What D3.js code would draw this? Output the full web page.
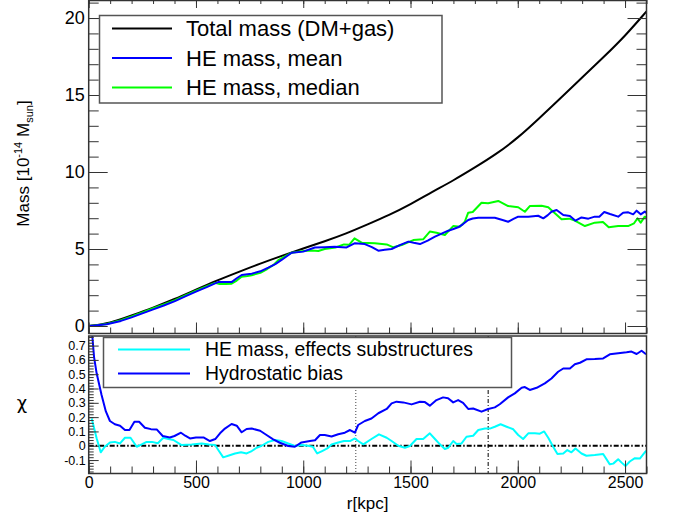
<!DOCTYPE html>
<html><head><meta charset="utf-8">
<script src="https://cdn.jsdelivr.net/npm/d3@7"></script>
<style>
html,body{margin:0;padding:0;background:#fff;}
svg{display:block;font-family:"Liberation Sans",Arial,Helvetica,sans-serif;}
</style></head>
<body>
<svg id="chart" width="673" height="519"></svg>
<script>
// ---------- DATA ----------
const rTotal = [0,100,200,300,400,500,600,700,800,900,1000,1100,1200,1300,1400,1500,1600,1700,1800,1900,2000,2100,2200,2300,2400,2500,2600];
const massTotal = [0,0.18,0.68,1.19,1.74,2.36,2.97,3.52,4.06,4.56,5.04,5.5,6.0,6.6,7.2,7.9,8.7,9.45,10.29,11.16,12.21,13.49,14.81,16.13,17.46,18.83,20.43];

const rMean = [0,30,84,150,200,250,301,350,402,450,500,550,589,604,640,666,690,713,740,760,800,837,870,899,946,1000,1054,1100,1147,1202,1241,1287,1320,1350,1380,1412,1450,1490,1515,1544,1580,1614,1645,1676,1700,1722,1745,1769,1790,1816,1850,1893,1925,1955,1980,2002,2049,2095,2119,2140,2157,2181,2212,2243,2269,2297,2329,2359,2380,2403,2430,2468,2491,2515,2538,2554,2573,2592,2600];
const massMean = [0,0.03,0.11,0.33,0.56,0.82,1.08,1.33,1.62,1.92,2.23,2.52,2.77,2.85,2.85,2.85,3.1,3.31,3.36,3.4,3.55,3.79,4.02,4.29,4.76,4.83,5.1,5.12,5.15,5.1,5.38,5.32,5.12,4.89,4.95,5.0,5.25,5.48,5.4,5.32,5.55,5.8,6.0,6.19,6.3,6.41,6.62,6.88,6.98,7.03,7.03,7.03,6.9,6.77,6.95,7.1,7.1,7.16,6.99,7.2,7.42,7.53,7.21,7.15,6.84,7.05,6.97,7.1,7.1,7.4,7.27,7.1,7.36,7.38,7.25,7.49,7.25,7.43,7.35];

const rMedian = [0,30,84,150,200,250,301,350,402,450,500,550,589,610,640,666,690,713,740,760,800,832,860,886,946,1000,1040,1070,1100,1150,1190,1215,1239,1274,1334,1389,1420,1459,1513,1559,1590,1621,1660,1699,1730,1753,1769,1790,1831,1862,1909,1955,2002,2033,2056,2111,2142,2173,2204,2240,2266,2313,2359,2397,2424,2468,2514,2542,2558,2573,2592,2600];
const massMedian = [0,0.04,0.13,0.38,0.62,0.88,1.15,1.4,1.68,1.98,2.3,2.58,2.8,2.73,2.73,2.75,2.95,3.2,3.25,3.3,3.45,3.7,3.95,4.3,4.76,4.87,4.9,4.87,5.0,5.1,5.3,5.28,5.69,5.4,5.37,5.3,5.11,5.26,5.58,5.63,6.13,6.06,5.91,6.49,6.45,6.77,7.36,7.4,8.0,7.97,8.12,7.79,7.71,7.42,7.79,7.81,7.71,7.32,6.93,6.97,6.84,6.49,6.71,6.75,6.41,6.49,6.49,6.67,6.99,6.71,7.1,7.05];

const rBias = [3,15,25,37,60,80,99,122,146,169,190,213,235,262,290,317,345,378,400,430,450,472,500,535,565,590,612,635,666,690,713,736,760,799,829,860,891,930,961,992,1031,1055,1078,1100,1132,1163,1194,1218,1241,1256,1287,1318,1350,1389,1412,1435,1466,1505,1544,1567,1590,1621,1652,1675,1699,1722,1745,1769,1792,1831,1862,1893,1916,1955,1986,2018,2033,2056,2088,2126,2157,2188,2212,2243,2266,2290,2320,2359,2398,2429,2468,2507,2530,2554,2577,2592,2600];
const chiBias = [1.0,0.8,0.62,0.506,0.355,0.24,0.173,0.15,0.14,0.11,0.11,0.168,0.168,0.126,0.116,0.114,0.068,0.058,0.068,0.091,0.07,0.051,0.058,0.058,0.033,0.047,0.087,0.12,0.152,0.14,0.094,0.117,0.12,0.105,0.075,0.045,0.021,-0.002,-0.007,0.023,0.033,0.038,0.075,0.075,0.065,0.08,0.091,0.11,0.091,0.145,0.173,0.19,0.227,0.257,0.296,0.308,0.303,0.289,0.308,0.305,0.28,0.319,0.338,0.332,0.303,0.319,0.3,0.257,0.26,0.238,0.257,0.268,0.29,0.338,0.366,0.405,0.41,0.39,0.405,0.436,0.47,0.517,0.54,0.54,0.569,0.58,0.604,0.606,0.61,0.639,0.646,0.653,0.658,0.641,0.664,0.646,0.64];

const rSub = [14,37,56,75,99,122,146,169,195,224,247,270,295,322,348,372,395,433,480,527,560,589,604,627,650,682,710,736,760,783,806,837,868,899,930,961,992,1023,1045,1065,1088,1112,1132,1163,1190,1218,1241,1256,1280,1318,1353,1389,1412,1443,1474,1497,1528,1559,1590,1614,1637,1660,1676,1699,1715,1738,1761,1792,1816,1847,1870,1893,1920,1948,1979,2002,2025,2049,2080,2103,2123,2142,2165,2185,2212,2231,2250,2269,2297,2320,2359,2398,2429,2445,2468,2484,2502,2522,2546,2569,2592,2600];
const chiSub = [0.19,0.052,-0.046,-0.007,0.023,0.027,0.016,0.056,0.056,-0.007,0.009,0.027,0.027,0.018,0.056,0.047,0.04,0.005,0.009,0.016,0.009,0.005,-0.03,-0.081,-0.07,-0.054,-0.046,-0.054,-0.037,-0.014,0.0,0.027,0.04,0.033,0.016,-0.002,0.005,0.0,-0.007,-0.054,-0.037,-0.019,0.009,0.023,0.033,0.033,0.051,0.033,0.01,0.047,0.08,0.056,0.033,0.0,-0.014,-0.002,0.047,0.047,0.087,0.047,0.01,-0.023,-0.014,0.033,0.012,0.016,0.063,0.07,0.11,0.12,0.12,0.133,0.15,0.133,0.115,0.075,0.047,0.087,0.087,0.084,0.1,0.056,-0.007,-0.058,-0.054,-0.03,-0.046,-0.019,-0.054,-0.07,-0.065,-0.058,-0.13,-0.125,-0.095,-0.118,-0.142,-0.11,-0.087,-0.09,-0.046,-0.035];

const vLines = [1245, 1862];
const topLegend = ["Total mass (DM+gas)", "HE mass, mean", "HE mass, median"];
const botLegend = ["HE mass, effects substructures", "Hydrostatic bias"];
const xTickLabels = [0, 500, 1000, 1500, 2000, 2500];
const yTopLabels = [0, 5, 10, 15, 20];
const yBotLabels = [-0.1, 0, 0.1, 0.2, 0.3, 0.4, 0.5, 0.6, 0.7];

// ---------- LAYOUT ----------
const svg = d3.select("#chart");
const X0 = 88.7, X1 = 646.5;
const T0 = 0, T1 = 333.5;      // top panel
const B0 = 336, B1 = 473.5;    // bottom panel

const x = d3.scaleLinear().domain([0, 2600]).range([X0, X1]);
const yT = d3.scaleLinear().domain([-0.487, 21.17]).range([T1, T0]);
const yB = d3.scaleLinear().domain([-0.194, 0.767]).range([B1, B0]);

const COL = {black:"#000000", blue:"#0000ff", green:"#00ff00", cyan:"#00ffff"};
const frameCol = "#333";

const defs = svg.append("defs");
defs.append("clipPath").attr("id","clipT").append("rect").attr("x",X0).attr("y",T0).attr("width",X1-X0).attr("height",T1-T0);
defs.append("clipPath").attr("id","clipB").append("rect").attr("x",X0).attr("y",B0).attr("width",X1-X0).attr("height",B1-B0);

function zip(a,b){ return a.map((v,i)=>[v,b[i]]); }

// ---------- TOP PANEL ----------
const gT = svg.append("g");
const cT = gT.append("g").attr("clip-path","url(#clipT)");
const lineTS = d3.line().x(d=>x(d[0])).y(d=>yT(d[1])).curve(d3.curveBasis);
cT.append("path").datum(zip(rTotal,massTotal)).attr("d",lineTS)
  .attr("fill","none").attr("stroke",COL.black).attr("stroke-width",2);
const lineTL = d3.line().x(d=>x(d[0])).y(d=>yT(d[1]));
cT.append("path").datum(zip(rMedian,massMedian)).attr("d",lineTL)
  .attr("fill","none").attr("stroke",COL.green).attr("stroke-width",2).attr("stroke-linejoin","round");
cT.append("path").datum(zip(rMean,massMean)).attr("d",lineTL)
  .attr("fill","none").attr("stroke",COL.blue).attr("stroke-width",2).attr("stroke-linejoin","round");

// axes top panel
function styleAxis(g){ g.select(".domain").remove(); g.selectAll("line").attr("stroke",frameCol); }
const xMinor = d3.range(0,2601,100);
const yTMinor = d3.range(0,22,1);
gT.append("g").attr("transform",`translate(${X0},0)`)
  .call(d3.axisLeft(yT).tickValues(yTMinor).tickSize(-10).tickFormat("")).call(styleAxis);
gT.append("g").attr("transform",`translate(${X0},0)`)
  .call(d3.axisLeft(yT).tickValues(yTopLabels).tickSize(-19).tickPadding(4).tickFormat(d3.format("d")))
  .call(styleAxis)
  .call(g=>g.selectAll("text").attr("font-size",18).attr("fill","#000").attr("font-family","Liberation Sans, Arial, sans-serif"));
gT.append("g").attr("transform",`translate(${X1},0)`)
  .call(d3.axisRight(yT).tickValues(yTMinor).tickSize(-10).tickFormat("")).call(styleAxis);
gT.append("g").attr("transform",`translate(${X1},0)`)
  .call(d3.axisRight(yT).tickValues(yTopLabels).tickSize(-19).tickFormat("")).call(styleAxis);
gT.append("g").attr("transform",`translate(0,${T1})`)
  .call(d3.axisBottom(x).tickValues(xMinor).tickSize(-6).tickFormat("")).call(styleAxis);
gT.append("g").attr("transform",`translate(0,${T1})`)
  .call(d3.axisBottom(x).tickValues(xTickLabels).tickSize(-11).tickFormat("")).call(styleAxis);
gT.append("g").attr("transform",`translate(0,${T0})`)
  .call(d3.axisTop(x).tickValues(xMinor).tickSize(-4).tickFormat("")).call(styleAxis);
gT.append("g").attr("transform",`translate(0,${T0})`)
  .call(d3.axisTop(x).tickValues(xTickLabels).tickSize(-8).tickFormat("")).call(styleAxis);
gT.append("rect").attr("x",X0).attr("y",T0+0.5).attr("width",X1-X0).attr("height",T1-T0-0.5)
  .attr("fill","none").attr("stroke",frameCol).attr("stroke-width",1.5);

// y title top
const yTitle = svg.append("text").attr("transform","translate(29,163.5) rotate(-90)")
  .attr("text-anchor","middle").attr("font-size",17).attr("fill","#000");
yTitle.append("tspan").text("Mass [10");
yTitle.append("tspan").attr("font-size",11).attr("dy",-7).text("-14");
yTitle.append("tspan").attr("dy",7).text(" M");
yTitle.append("tspan").attr("font-size",11).attr("dy",4).text("sun");
yTitle.append("tspan").attr("dy",-4).text("]");

// top legend
const lgT = svg.append("g");
lgT.append("rect").attr("x",99.5).attr("y",15.5).attr("width",342.5).attr("height",87.5)
  .attr("fill","#fff").attr("stroke","#555").attr("stroke-width",1.5);
const tCols = [COL.black, COL.blue, COL.green];
topLegend.forEach((t,i)=>{
  const yy = 28.5 + i*29.5;
  lgT.append("line").attr("x1",112).attr("x2",172).attr("y1",yy).attr("y2",yy)
    .attr("stroke",tCols[i]).attr("stroke-width",2);
  lgT.append("text").attr("x",186).attr("y",yy).attr("dy","0.36em")
    .attr("font-size",22).attr("fill","#000").text(t);
});

// ---------- BOTTOM PANEL ----------
const gB = svg.append("g");
const cB = gB.append("g").attr("clip-path","url(#clipB)");
vLines.forEach((v,i)=>{
  cB.append("line").attr("x1",x(v)).attr("x2",x(v)).attr("y1",B0).attr("y2",B1)
    .attr("stroke", i===0 ? "#444" : "#000").attr("stroke-width",1)
    .attr("stroke-dasharray", i===0 ? "1,2" : "4,2,1,2");
});
cB.append("line").attr("x1",X0).attr("x2",X1).attr("y1",yB(0)).attr("y2",yB(0))
  .attr("stroke","#000").attr("stroke-width",1.8).attr("stroke-dasharray","5,2,1.5,2");
const lineB = d3.line().x(d=>x(d[0])).y(d=>yB(d[1]));
cB.append("path").datum(zip(rSub,chiSub)).attr("d",lineB)
  .attr("fill","none").attr("stroke",COL.cyan).attr("stroke-width",2).attr("stroke-linejoin","round");
cB.append("path").datum(zip(rBias,chiBias)).attr("d",lineB)
  .attr("fill","none").attr("stroke",COL.blue).attr("stroke-width",2).attr("stroke-linejoin","round");

const yBMinor = d3.range(-18,77,2).map(v=>v/100);
gB.append("g").attr("transform",`translate(${X0},0)`)
  .call(d3.axisLeft(yB).tickValues(yBMinor).tickSize(-5).tickFormat("")).call(styleAxis);
gB.append("g").attr("transform",`translate(${X0},0)`)
  .call(d3.axisLeft(yB).tickValues(yBotLabels).tickSize(-10).tickPadding(3).tickFormat(d=> d===0 ? "0" : d3.format(".1f")(d).replace("−","-")))
  .call(styleAxis)
  .call(g=>g.selectAll("text").attr("font-size",12.5).attr("fill","#000").attr("font-family","Liberation Sans, Arial, sans-serif"));
gB.append("g").attr("transform",`translate(0,${B1})`)
  .call(d3.axisBottom(x).tickValues(xMinor).tickSize(-7).tickFormat("")).call(styleAxis);
gB.append("g").attr("transform",`translate(0,${B1})`)
  .call(d3.axisBottom(x).tickValues(xTickLabels).tickSize(-13).tickPadding(4).tickFormat(d3.format("d")))
  .call(styleAxis)
  .call(g=>g.selectAll("text").attr("font-size",16).attr("fill","#000").attr("font-family","Liberation Sans, Arial, sans-serif").attr("dy","0.71em").attr("y",3));
gB.append("rect").attr("x",X0).attr("y",B0).attr("width",X1-X0).attr("height",B1-B0)
  .attr("fill","none").attr("stroke",frameCol).attr("stroke-width",1.5);

// bottom legend
const lgB = svg.append("g");
lgB.append("rect").attr("x",103.5).attr("y",337.5).attr("width",408).attr("height",50)
  .attr("fill","#fff").attr("stroke","#555").attr("stroke-width",1.5);
const bCols = [COL.cyan, COL.blue];
botLegend.forEach((t,i)=>{
  const yy = 349.5 + i*24;
  lgB.append("line").attr("x1",118).attr("x2",190).attr("y1",yy).attr("y2",yy)
    .attr("stroke",bCols[i]).attr("stroke-width",2);
  lgB.append("text").attr("x",205).attr("y",yy).attr("dy","0.36em")
    .attr("font-size",19.4).attr("fill","#000").text(t);
});

// titles
svg.append("text").attr("x",(X0+X1)/2).attr("y",509).attr("text-anchor","middle")
  .attr("font-size",17).attr("fill","#000").text("r[kpc]");
svg.append("text").attr("x",22).attr("y",409).attr("text-anchor","middle")
  .attr("font-size",18).attr("font-family","DejaVu Sans, sans-serif").attr("fill","#000").text("χ");
</script>
</body></html>
